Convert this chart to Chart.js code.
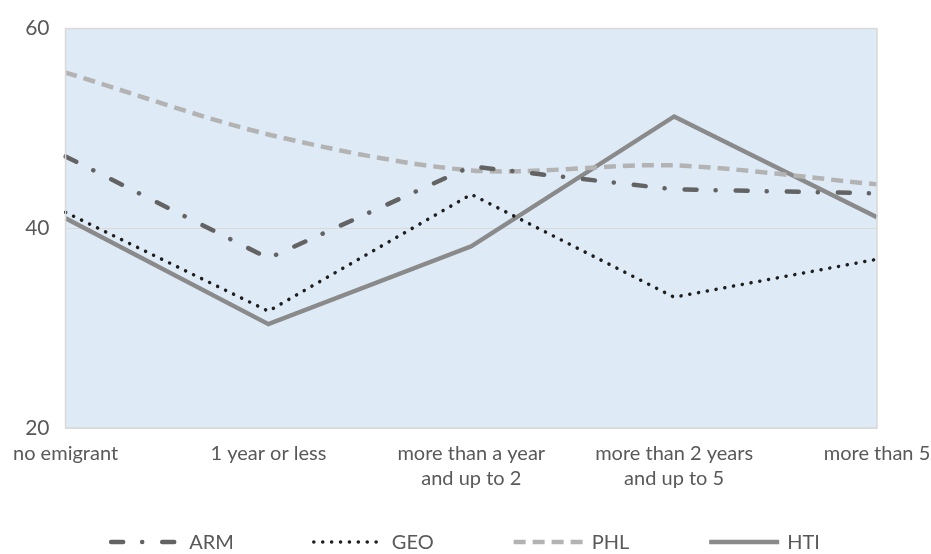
<!DOCTYPE html>
<html>
<head>
<meta charset="utf-8">
<script src="https://cdn.jsdelivr.net/npm/chart.js@4.4.1/dist/chart.umd.min.js"></script>
<style>
  html, body { margin: 0; padding: 0; background: #ffffff; }
  #wrap { width: 931px; height: 554px; position: relative; }
</style>
</head>
<body>
<div id="wrap"><canvas id="chart"></canvas></div>
<script>
// Duration of emigration categories
const categories = [
  'no emigrant',
  '1 year or less',
  ['more than a year', 'and up to 2'],
  ['more than 2 years', 'and up to 5'],
  'more than 5'
];

// Series values per country
const armValues = [47.2, 37.0, 46.2, 43.9, 43.5];
const geoValues = [41.6, 31.7, 43.4, 33.1, 36.9];
const phlValues = [55.6, 49.4, 45.8, 46.3, 44.4];
const htiValues = [41.0, 30.4, 38.2, 51.2, 41.1];

// Value axis ticks
const yTicks = [20, 40, 60];

const FONT = "Lato, 'Open Sans', sans-serif";
const TEXT_COLOR = '#595959';

// Shaded plot area with a thin frame
const plotFrame = {
  id: 'plotFrame',
  beforeDraw(chart) {
    const { ctx, chartArea: a } = chart;
    ctx.save();
    ctx.fillStyle = '#deebf7';
    ctx.fillRect(a.left, a.top, a.right - a.left, a.bottom - a.top);
    ctx.restore();
  },
  afterDatasetsDraw(chart) {
    const { ctx, chartArea: a } = chart;
    ctx.save();
    ctx.strokeStyle = '#d9d9d9';
    ctx.lineWidth = 1.5;
    ctx.strokeRect(a.left, a.top, a.right - a.left, a.bottom - a.top);
    ctx.restore();
  }
};

// Legend row with line samples in each series' own dash style
const lineLegend = {
  id: 'lineLegend',
  afterDraw(chart, args, opts) {
    const { ctx } = chart;
    const sets = chart.data.datasets;
    ctx.save();
    ctx.font = `${opts.fontSize}px ${FONT}`;
    ctx.textBaseline = 'middle';
    ctx.textAlign = 'left';
    const widths = sets.map(ds => opts.sample + opts.textGap + ctx.measureText(ds.label).width);
    const total = widths.reduce((s, w) => s + w, 0) + opts.itemGap * (sets.length - 1);
    let x = (chart.width - total) / 2;
    const y = chart.height - opts.bottom;
    sets.forEach((ds, i) => {
      ctx.save();
      ctx.strokeStyle = ds.borderColor;
      ctx.lineWidth = ds.borderWidth;
      ctx.lineCap = ds.borderCapStyle || 'butt';
      ctx.setLineDash(ds.borderDash || []);
      ctx.beginPath();
      ctx.moveTo(x, y);
      ctx.lineTo(x + opts.sample, y);
      ctx.stroke();
      ctx.restore();
      ctx.fillStyle = TEXT_COLOR;
      ctx.fillText(ds.label, x + opts.sample + opts.textGap, y + 1);
      x += widths[i] + opts.itemGap;
    });
    ctx.restore();
  }
};

new Chart(document.getElementById('chart'), {
  type: 'line',
  data: {
    labels: categories,
    datasets: [
      {
        label: 'ARM', data: armValues,
        borderColor: '#636363', borderWidth: 4.5,
        borderDash: [12, 19, 0.1, 20], borderCapStyle: 'round',
        tension: 0
      },
      {
        label: 'GEO', data: geoValues,
        borderColor: '#1e1e1e', borderWidth: 3.5,
        borderDash: [0.1, 8.8], borderCapStyle: 'round',
        tension: 0
      },
      {
        label: 'PHL', data: phlValues,
        borderColor: '#b3b3b3', borderWidth: 4.5,
        borderDash: [12, 7], borderCapStyle: 'butt',
        tension: 0.3
      },
      {
        label: 'HTI', data: htiValues,
        borderColor: '#8a8a8a', borderWidth: 4.5,
        borderDash: [], borderCapStyle: 'butt',
        tension: 0
      }
    ]
  },
  options: {
    responsive: true,
    maintainAspectRatio: false,
    animation: false,
    layout: { padding: { top: 0, left: 0, right: 0, bottom: 50 } },
    elements: { point: { radius: 0, hoverRadius: 0 } },
    plugins: {
      tooltip: { enabled: false },
      legend: { display: false },
      lineLegend: { sample: 70, textGap: 8, itemGap: 80, fontSize: 20, bottom: 12 }
    },
    scales: {
      x: {
        offset: false,
        afterFit(scale) { scale.paddingRight = 54; },
        grid: { display: false, drawTicks: false },
        border: { display: false },
        ticks: {
          color: TEXT_COLOR,
          font: { family: FONT, size: 20, lineHeight: 1.25 },
          padding: 13,
          maxRotation: 0,
          autoSkip: false
        }
      },
      y: {
        min: 20, max: 60,
        afterBuildTicks(scale) { scale.ticks = yTicks.map(v => ({ value: v })); },
        grid: { color: '#d9d9d9', lineWidth: 1, drawTicks: false },
        border: { display: false },
        ticks: {
          color: TEXT_COLOR,
          font: { family: FONT, size: 21 },
          padding: 16
        }
      }
    }
  },
  plugins: [plotFrame, lineLegend]
});
</script>
</body>
</html>
